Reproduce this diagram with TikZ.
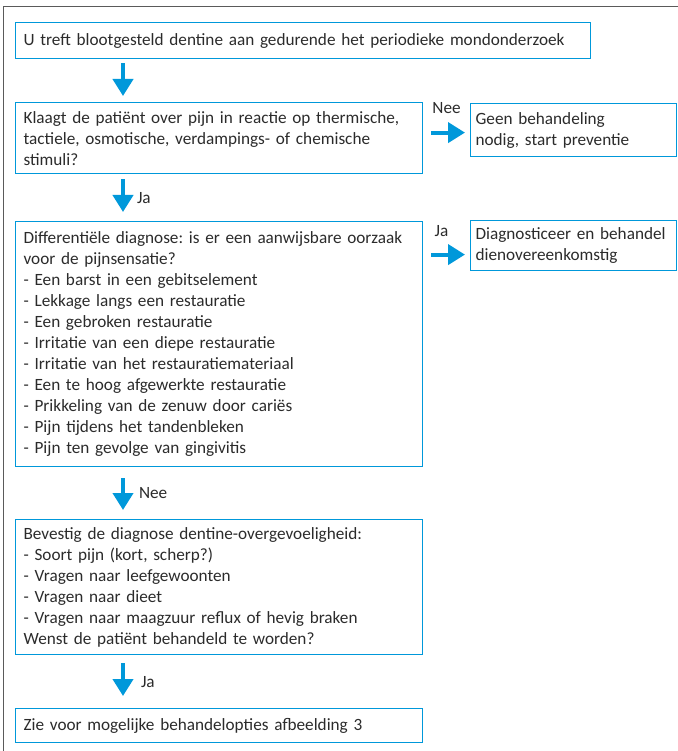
\documentclass[tikz,border=0pt]{standalone}
\usepackage{fontspec}
\setmainfont{Carlito}
\usetikzlibrary{arrows.meta, positioning}
\definecolor{cblue}{HTML}{0098DA}
\definecolor{ctext}{HTML}{2B2B2B}
\definecolor{cframe}{HTML}{5A5A5A}
\tikzset{
  box/.style={draw=cblue, line width=1.2pt, anchor=north west, align=left, inner xsep=8pt, inner ysep=0pt, text=ctext, font=\fontsize{17.2}{21}\selectfont},
  wide/.style={box, text width=559pt},
  main/.style={box, text width=391pt},
  side/.style={box, inner xsep=5pt, text width=196pt},
  arrow/.style={-{Triangle[length=17pt, width=20pt]}, draw=cblue, line width=4pt},
  lbl/.style={text=ctext, inner sep=0pt, font=\fontsize{17.2}{21}\selectfont},
}
\frenchspacing
\hyphenpenalty=10000
\begin{document}
\begin{tikzpicture}[x=1pt, y=-1pt]
  \useasboundingbox (0,0) rectangle (677,751);
  \draw[cframe, line width=1pt] (3.5,770) -- (3.5,6.5) -- (700,6.5);
  \coordinate (ax) at (123,0);
  % main column
  \node[wide, minimum height=36pt] (start) at (15,22) {U treft blootgesteld dentine aan gedurende het periodieke mondonderzoek};
  \node[main, minimum height=71pt] (klacht) at (15,102) {Klaagt de patiënt over pijn in reactie op thermische,\\ tactiele, osmotische, verdampings- of chemische\\ stimuli?};
  \node[main, minimum height=245pt] (diff) at (15,221) {Differentiële diagnose: is er een aanwijsbare oorzaak\\ voor de pijnsensatie?\\
    - Een barst in een gebitselement\\
    - Lekkage langs een restauratie\\
    - Een gebroken restauratie\\
    - Irritatie van een diepe restauratie\\
    - Irritatie van het restauratiemateriaal\\
    - Een te hoog afgewerkte restauratie\\
    - Prikkeling van de zenuw door cariës\\
    - Pijn tijdens het tandenbleken\\
    - Pijn ten gevolge van gingivitis};
  \node[main, minimum height=135pt] (bevestig) at (15,519) {Bevestig de diagnose dentine-overgevoeligheid:\\
    - Soort pijn (kort, scherp?)\\
    - Vragen naar leefgewoonten\\
    - Vragen naar dieet\\
    - Vragen naar maagzuur reflux of hevig braken\\
    Wenst de patiënt behandeld te worden?};
  \node[main, minimum height=34pt] (zie) at (15,708) {Zie voor mogelijke behandelopties afbeelding 3};
  % side column
  \node[side, minimum height=53pt] (geen) at (470,103) {Geen behandeling\\ nodig, start preventie};
  \node[side, minimum height=50pt] (diag) at (470,220) {Diagnosticeer en behandel\\ dienovereenkomstig};
  % vertical arrows
  \draw[arrow, shorten <=4pt, shorten >=6pt] (start.south -| ax) -- (klacht.north -| ax);
  \draw[arrow, shorten <=5pt, shorten >=9pt] (klacht.south -| ax) -- (diff.north -| ax) node[lbl, midway, right=12pt] (ja1) {Ja};
  \draw[arrow, shorten <=11pt, shorten >=9pt] (diff.south -| ax) -- (bevestig.north -| ax) node[lbl, midway, right=14pt] (nee2) {Nee};
  \draw[arrow, shorten <=8pt, shorten >=12pt] (bevestig.south -| ax) -- (zie.north -| ax) node[lbl, midway, right=16pt] (ja3) {Ja};
  % side arrows
  \coordinate (n1) at ([yshift=5.5pt]klacht.east);
  \draw[arrow, shorten <=8pt, shorten >=5pt] (n1) -- (n1 -| geen.west) node[lbl, midway, above=17pt] (nee1) {Nee};
  \coordinate (j2) at ([yshift=-9pt]diag.west);
  \draw[arrow, shorten <=8pt, shorten >=5pt] (diff.east |- j2) -- (j2) node[lbl, midway, above=16pt, xshift=-5pt] (ja2) {Ja};
\end{tikzpicture}
\end{document}
